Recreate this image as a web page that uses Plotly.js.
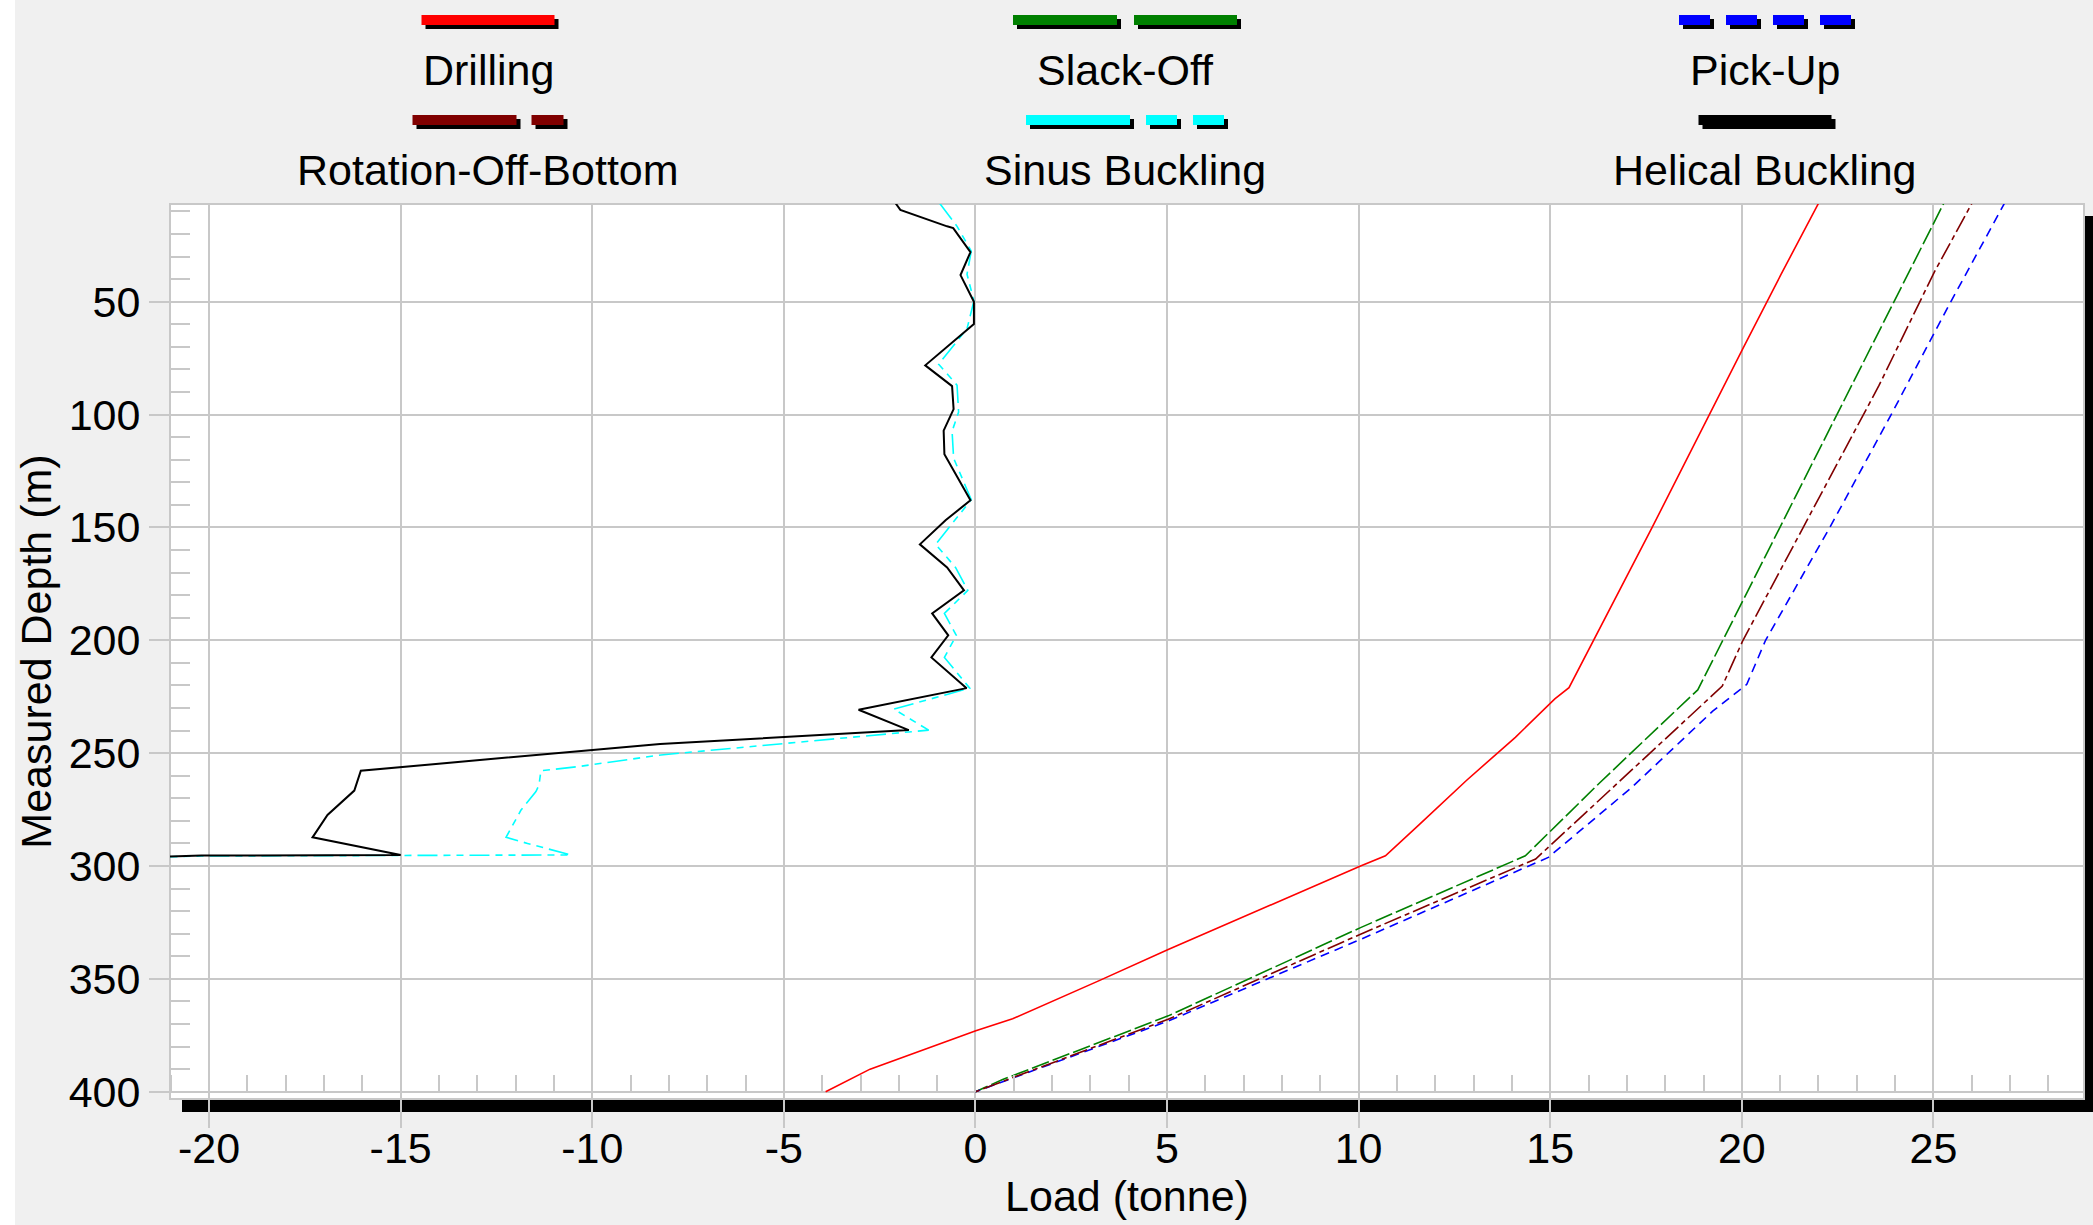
<!DOCTYPE html>
<html><head><meta charset="utf-8">
<script src="https://cdn.plot.ly/plotly-3.0.1.min.js"></script>
<style>html,body{margin:0;padding:0;background:#f0f0f0;overflow:hidden;} #chart{width:2093px;height:1225px;}</style>
</head><body><div id="chart"></div>
<script>
// ---------------- data ----------------
const seriesNames = ["Drilling", "Slack-Off", "Pick-Up", "Rotation-Off-Bottom", "Sinus Buckling", "Helical Buckling"];
const seriesColors = ["#ff0000", "#008000", "#0000ff", "#800000", "#00ffff", "#000000"];

const drillingDepth = [0, 38, 70, 150, 221, 226, 243, 262, 282, 295.5, 300, 337, 351, 367.7, 373, 390, 400];
const drillingLoad  = [22.2, 21.02, 20.05, 17.66, 15.49, 15.12, 14.09, 12.82, 11.56, 10.7, 10.05, 5.03, 3.2, 0.97, 0.01, -2.75, -3.91];

const slackDepth = [0, 49.7, 100.6, 182.1, 222, 231.4, 263, 295.5, 327.3, 366.4, 394.6, 400];
const slackLoad  = [25.46, 23.98, 22.45, 20.03, 18.85, 18.26, 16.3, 14.35, 10.05, 5.03, 0.71, 0.0];

const pickDepth = [0, 51.4, 100.6, 149.9, 200, 219.5, 231.4, 265.3, 296.2, 332.5, 368.7, 396, 400];
const pickLoad  = [27.06, 25.41, 23.88, 22.3, 20.62, 20.13, 19.24, 17.12, 14.95, 10.05, 5.03, 0.6, 0.0];

const rotDepth = [0, 37, 87.1, 149.9, 200, 220.3, 236.5, 265.3, 296.9, 330.2, 367.9, 395.2, 400];
const rotLoad  = [26.21, 25.02, 23.58, 21.61, 20.03, 19.49, 18.45, 16.63, 14.62, 10.05, 5.03, 0.77, 0.0];

const sinusDepth = [6.5, 16.6, 27.6, 37.8, 49.7, 61.9, 77.7, 87.0, 98.9, 107.4, 119.3, 137.7, 157.5, 167.7, 177.9, 188.1, 197.8, 207.6, 221.2, 230.5, 239.8, 250.8, 256, 257.8, 264.1, 267, 275.2, 287.3, 290, 295.1, 295.6, 296.3];
const sinusLoad  = [-0.93, -0.48, -0.11, -0.22, -0.04, -0.22, -0.96, -0.48, -0.44, -0.61, -0.57, -0.11, -1.04, -0.52, -0.20, -0.81, -0.50, -0.81, -0.15, -2.13, -1.22, -8.21, -10.38, -11.34, -11.39, -11.47, -11.86, -12.25, -11.69, -10.56, -20.2, -22.0];

const helicalDepth = [6.5, 9.3, 16.6, 17.4, 28.0, 38.2, 50.0, 59.9, 78.2, 87.4, 97.6, 107.1, 117.6, 138.0, 146.8, 157.5, 167.7, 177.9, 188.1, 197.8, 207.6, 221.2, 230.8, 239.8, 245.9, 256.0, 257.8, 266.6, 272.0, 277.4, 287.3, 295.1, 295.4, 296.3];
const helicalLoad  = [-2.08, -1.96, -0.74, -0.58, -0.13, -0.39, -0.04, -0.04, -1.31, -0.61, -0.57, -0.83, -0.81, -0.13, -0.78, -1.45, -0.74, -0.30, -1.13, -0.71, -1.15, -0.23, -3.05, -1.74, -8.23, -15.02, -16.04, -16.21, -16.56, -16.91, -17.30, -15.0, -20.2, -22.0];

const xTickVals   = [-20, -15, -10, -5, 0, 5, 10, 15, 20, 25];
const xTickLabels = ["-20", "-15", "-10", "-5", "0", "5", "10", "15", "20", "25"];
const yTickVals   = [50, 100, 150, 200, 250, 300, 350, 400];
const yTickLabels = ["50", "100", "150", "200", "250", "300", "350", "400"];

const xTitle = "Load (tonne)";
const yTitle = "Measured Depth (m)";

// ---------------- styles ----------------
const FONT = "'Liberation Sans', Arial, sans-serif";
const FS = 43;
const GRID = "#c8c8c8";
const lineStyles = [
  {width: 1.6, dash: "solid"},
  {width: 1.6, dash: "18px,4px"},
  {width: 1.6, dash: "9px,6px"},
  {width: 1.6, dash: "18px,4px,5px,4px"},
  {width: 1.6, dash: "20px,6px,7px,6px,7px,6px"},
  {width: 2, dash: "solid"}
];
const swatchLen = [133, 224, 172, 151, 198, 133];
const swatchDash = ["solid", "104px,17px", "31px,16px", "104px,15px,32px,15px", "104px,16px,31px,16px,31px,16px", "solid"];

const xs = [drillingLoad, slackLoad, pickLoad, rotLoad, sinusLoad, helicalLoad];
const ys = [drillingDepth, slackDepth, pickDepth, rotDepth, sinusDepth, helicalDepth];

const traces = seriesNames.map((n, i) => ({
  type: "scatter", mode: "lines", name: n, x: xs[i], y: ys[i],
  line: {color: seriesColors[i], width: lineStyles[i].width, dash: lineStyles[i].dash},
  hoverinfo: "skip", showlegend: false
}));

// plot area in pixels
const L = 170, R = 2084, T = 204, B = 1099;
const px = X => (X - L) / (R - L);
const py = Y => (B - Y) / (B - T);

const shapes = [
  {type: "rect", xref: "paper", yref: "paper", x0: px(0), x1: px(15), y0: py(1225), y1: py(0), fillcolor: "#ffffff", line: {width: 0}, layer: "below"},
  {type: "rect", xref: "paper", yref: "paper", x0: px(182), x1: px(2100), y0: py(1112), y1: py(216), fillcolor: "#000000", line: {width: 0}, layer: "below"},
  {type: "rect", xref: "paper", yref: "paper", x0: 0, x1: 1, y0: 0, y1: 1, fillcolor: "#ffffff", line: {color: GRID, width: 2}, layer: "below"}
];
const annotations = [];
const colCenter = [488, 1125, 1765];
const swatchY = [20, 120];
const textY = [70, 170];
seriesNames.forEach((n, i) => {
  const c = colCenter[i % 3], r = Math.floor(i / 3);
  const x0 = c - swatchLen[i] / 2, x1 = c + swatchLen[i] / 2, y = swatchY[r];
  shapes.push({type: "line", xref: "paper", yref: "paper", x0: px(x0 + 4), x1: px(x1 + 4), y0: py(y + 4), y1: py(y + 4), line: {color: "#000000", width: 10, dash: swatchDash[i]}});
  shapes.push({type: "line", xref: "paper", yref: "paper", x0: px(x0), x1: px(x1), y0: py(y), y1: py(y), line: {color: seriesColors[i], width: 10, dash: swatchDash[i]}});
  annotations.push({xref: "paper", yref: "paper", x: px(c), y: py(textY[r]), text: n, showarrow: false, xanchor: "center", yanchor: "middle", font: {family: FONT, size: FS, color: "#000"}});
});

const layout = {
  width: 2093, height: 1225,
  margin: {l: L, r: 2093 - R, t: T, b: 1225 - B, pad: 0},
  paper_bgcolor: "#f0f0f0", plot_bgcolor: "rgba(0,0,0,0)",
  showlegend: false,
  font: {family: FONT, size: FS, color: "#000"},
  xaxis: {
    range: [-21.02, 28.93], anchor: "free", position: 0.00816,
    tickmode: "array", tickvals: xTickVals, ticktext: xTickLabels,
    ticks: "outside", ticklen: 35, tickwidth: 2, tickcolor: GRID, ticklabelstandoff: -16,
    showgrid: true, gridcolor: GRID, gridwidth: 2, zeroline: false, showline: false,
    tickfont: {family: FONT, size: FS, color: "#000"},
    minor: {tickmode: "linear", dtick: 1, tick0: 0, ticks: "inside", ticklen: 17, tickwidth: 2, tickcolor: GRID, showgrid: false},
    title: {text: xTitle, font: {family: FONT, size: FS, color: "#000"}, standoff: 8},
    fixedrange: true
  },
  yaxis: {
    range: [403.23, 6.71],
    tickmode: "array", tickvals: yTickVals, ticktext: yTickLabels,
    ticks: "outside", ticklen: 20, tickwidth: 2, tickcolor: GRID,
    showgrid: true, gridcolor: GRID, gridwidth: 2, zeroline: false, showline: false,
    tickfont: {family: FONT, size: FS, color: "#000"},
    minor: {tickmode: "linear", dtick: 10, tick0: 0, ticks: "inside", ticklen: 20, tickwidth: 2, tickcolor: GRID, showgrid: false},
    title: {text: yTitle, font: {family: FONT, size: FS, color: "#000"}, standoff: 3},
    fixedrange: true
  },
  shapes: shapes,
  annotations: annotations
};

Plotly.newPlot("chart", traces, layout, {displayModeBar: false, staticPlot: true});
</script>
</body></html>
